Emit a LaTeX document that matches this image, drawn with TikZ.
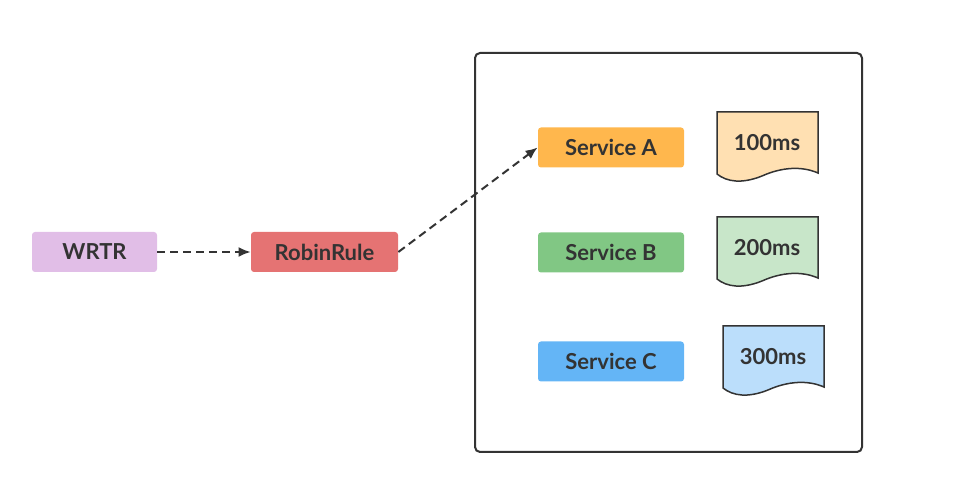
\documentclass[tikz,border=0pt]{standalone}
\usepackage{fontspec}
\setmainfont{Lato}
\usepackage{tikz}
\usetikzlibrary{arrows.meta}
\usetikzlibrary{positioning}

\definecolor{ink}{HTML}{333333}
\definecolor{wrtrfill}{HTML}{E1BEE7}
\definecolor{rulefill}{HTML}{E57373}
\definecolor{svcAfill}{HTML}{FFB74D}
\definecolor{svcBfill}{HTML}{81C784}
\definecolor{svcCfill}{HTML}{64B5F6}
\definecolor{docAfill}{HTML}{FFE0B2}
\definecolor{docBfill}{HTML}{C8E6C9}
\definecolor{docCfill}{HTML}{BBDEFB}

% wavy sheet, #1 = top left corner, #2 = fill
\newcommand{\docsheet}[2]{%
  \draw[ink, line width=0.75pt, fill=#2, shift={(#1)}]
    (0,62) -- (0,0) -- (101,0) -- (101,61)
    .. controls (85,54) and (65,55) .. (45,64)
    .. controls (25,72) and (10,70) .. (0,62) -- cycle;}

\begin{document}
\begin{tikzpicture}[
  x=0.5pt,
  y=-0.5pt,
  every node/.style={font=\bfseries\fontsize{11}{13}\selectfont, text=ink},
  tag/.style={rectangle, rounded corners=1.5pt, minimum height=20pt, inner sep=0pt},
  flow/.style={ink, line width=1pt, dash pattern=on 4pt off 2.5pt, -{Latex[length=6pt,width=5pt]}},
  frame/.style={ink, line width=1pt, rounded corners=2.5pt}
]

\useasboundingbox (0,0) rectangle (975,491);

\node[tag, fill=wrtrfill, minimum width=62.5pt] (wrtr) at (94.5,252) {WRTR};
\node[tag, fill=rulefill, minimum width=73.5pt] (rule) at (324.5,252) {RobinRule};

\draw[frame] (475,53) rectangle (862,452);

\node[tag, fill=svcAfill, minimum width=73pt] (svcA) at (611,147.5) {Service A};
\node[tag, fill=svcBfill, minimum width=73pt] (svcB) at (611,252.5) {Service B};
\node[tag, fill=svcCfill, minimum width=73pt] (svcC) at (611,361.5) {Service C};

\docsheet{717,112}{docAfill}
\docsheet{717,217}{docBfill}
\docsheet{723,326}{docCfill}

\node (tA) at (767,143) {100ms};
\node (tB) at (767,248) {200ms};
\node (tC) at (773,357) {300ms};

\draw[flow] (wrtr) -- (rule);
\draw[flow] (rule.east) -- (svcA.west);

\end{tikzpicture}
\end{document}
